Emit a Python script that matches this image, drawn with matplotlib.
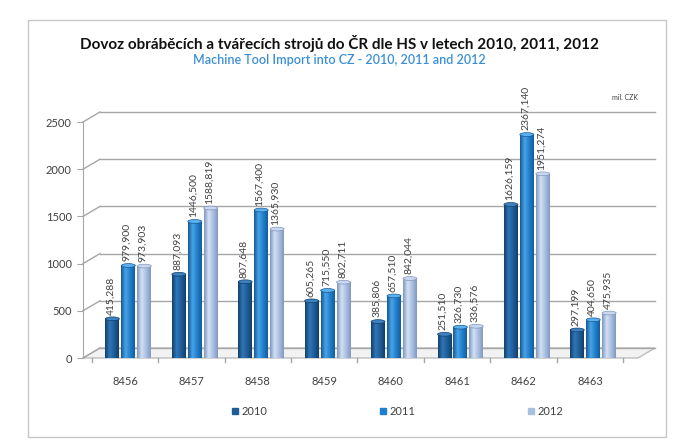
import numpy as np
import matplotlib
matplotlib.use("Agg")
import matplotlib.pyplot as plt
from matplotlib.patches import Rectangle, Ellipse, Polygon
from matplotlib.colors import LinearSegmentedColormap
from matplotlib.lines import Line2D

plt.rcParams['font.family'] = ['Lato', 'DejaVu Sans']

kategorie = ["8456", "8457", "8458", "8459", "8460", "8461", "8462", "8463"]
roky = ["2010", "2011", "2012"]
dovoz_2010 = [415.288, 887.093, 807.648, 605.265, 385.806, 251.510, 1626.159, 297.199]
dovoz_2011 = [979.900, 1446.500, 1567.400, 715.550, 657.510, 326.730, 2367.140, 404.650]
dovoz_2012 = [973.903, 1588.819, 1365.930, 802.711, 842.044, 336.576, 1951.274, 475.935]
osa_y = [0, 500, 1000, 1500, 2000, 2500]

serie = [dovoz_2010, dovoz_2011, dovoz_2012]
barvy = [
    ["#123f68", "#2f77b8", "#1f5d98", "#143f66"],
    ["#155a94", "#4aa3e6", "#1f7fcc", "#175e9a"],
    ["#7f97bd", "#d3e0f3", "#a9bfe2", "#8299be"],
]
vrsky = ["#3d82c2", "#5cb0ef", "#c9d8ef"]

fig = plt.figure(figsize=(6.78, 4.48), dpi=100)
fig.patch.set_facecolor("white")
fig.add_artist(Rectangle((28 / 678, 11 / 448), 638 / 678, 417 / 448,
                         transform=fig.transFigure, fill=False,
                         edgecolor="#c8c8c8", lw=1))

ax = fig.add_axes([83 / 678, 90 / 448, 572 / 678, 236 / 448])
x0, x1 = -0.633, 7.98
hx, hy = 0.256, 106  # hloubka 3D

# podlaha
ax.add_patch(Polygon([[x0, 0], [x1 - hx, 0], [x1, hy], [x0 + hx, hy]],
                     closed=True, facecolor="#f2f2f2", edgecolor="#bdbdbd",
                     lw=1, zorder=1, clip_on=False))
# mrizka
for v in osa_y:
    ax.plot([x0, x0 + hx], [v, v + hy], color="#a6a6a6", lw=1, zorder=1, clip_on=False)
    ax.plot([x0 + hx, x1], [v + hy, v + hy], color="#a6a6a6", lw=1, zorder=1, clip_on=False)

# znacky na podlaze
for i in range(len(kategorie) + 1):
    xt = i - 0.5
    ax.plot([xt, xt], [0, -45], color="#a6a6a6", lw=1, clip_on=False, zorder=1)

sirka = 0.21
posun = [-0.24, 0.0, 0.24]
for s, hodnoty in enumerate(serie):
    cmap = LinearSegmentedColormap.from_list("c%d" % s, barvy[s])
    grad = np.linspace(0, 1, 64).reshape(1, -1)
    for i, v in enumerate(hodnoty):
        xc = i + 0.05 + posun[s]
        ax.imshow(grad, extent=[xc - sirka / 2, xc + sirka / 2, 0, v],
                  aspect="auto", cmap=cmap, zorder=3, origin="lower")
        ax.add_patch(Ellipse((xc, v), sirka, 40, facecolor=vrsky[s],
                             edgecolor=barvy[s][0], lw=0.5, zorder=4))
        ax.text(xc - 0.02, v + 45, ("%.3f" % v).replace(".", ","),
                rotation=90, ha="center", va="bottom", fontsize=7.5,
                color="#404040", zorder=5, clip_on=False)

for i, k in enumerate(kategorie):
    ax.text(i, -245, k, ha="center", va="center", fontsize=8, color="#404040")

ax.set_xlim(x0, x1)
ax.set_ylim(0, 2500)
ax.set_xticks([])
ax.set_yticks(osa_y)
ax.set_yticklabels([str(v) for v in osa_y])
ax.tick_params(axis="y", length=4, color="#a6a6a6", labelsize=8,
               labelcolor="#404040", pad=4)
for sp in ["top", "right", "bottom"]:
    ax.spines[sp].set_visible(False)
ax.spines["left"].set_color("#a6a6a6")
ax.set_facecolor("none")

fig.text(0.5, 1 - 43 / 448, "Dovoz obráběcích a tvářecích strojů do ČR dle HS v letech 2010, 2011, 2012",
         ha="center", va="center", fontsize=11, fontweight="bold", color="#111111")
fig.text(0.5, 1 - 60 / 448, "Machine Tool Import into CZ - 2010, 2011 and 2012",
         ha="center", va="center", fontsize=9, fontweight="semibold", color="#3a8fd6")
fig.text(625 / 678, 1 - 97 / 448, "mil. CZK", ha="center", va="center",
         fontsize=5, color="#404040")

handles = [Line2D([], [], marker="s", ls="none", markersize=5,
                  markerfacecolor=barvy[s][2], markeredgecolor=barvy[s][2])
           for s in range(3)]
fig.legend(handles, roky, loc="center", bbox_to_anchor=(397 / 678, 37 / 448),
           ncol=3, frameon=False, fontsize=8, handletextpad=0.2,
           columnspacing=10, handlelength=0.8, labelcolor="#404040")

fig.savefig("out.png", dpi=100)
